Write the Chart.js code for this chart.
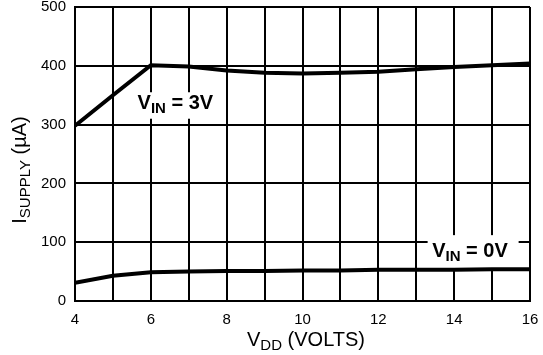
<!DOCTYPE html>
<html>
<head>
<meta charset="utf-8">
<script src="https://cdn.jsdelivr.net/npm/chart.js@4/dist/chart.umd.min.js"></script>
<style>
  html, body { margin: 0; padding: 0; background: #fff; }
  #wrap { width: 543px; height: 355px; }
</style>
</head>
<body>
<div id="wrap"><canvas id="supplyChart"></canvas></div>
<script>
// values
const vdd = [4, 5, 6, 7, 8, 9, 10, 11, 12, 13, 14, 15, 16];
const supplyVin3 = [298, 350, 401, 399, 392, 388, 387, 388, 390, 394, 398, 401, 404];
const supplyVin0 = [31, 43, 49, 50, 51, 51, 52, 52, 53, 53, 53, 54, 54];
const xTicks = [4, 6, 8, 10, 12, 14, 16];
const yTicks = [0, 100, 200, 300, 400, 500];

const FONT = "'Liberation Sans', Arial, Helvetica, sans-serif";

function toPoints(xs, ys) {
  return xs.map((x, i) => ({ x: x, y: ys[i] }));
}

// draws "main" + lowered subscript + "rest" starting at x, returns end x
function subText(ctx, x, y, main, sub, rest, size, subSize, bold) {
  const w = bold ? "bold " : "";
  ctx.font = w + size + "px " + FONT;
  ctx.fillText(main, x, y);
  x += ctx.measureText(main).width;
  ctx.font = w + subSize + "px " + FONT;
  ctx.fillText(sub, x, y + 4);
  x += ctx.measureText(sub).width;
  ctx.font = w + size + "px " + FONT;
  ctx.fillText(rest, x, y);
  return x + ctx.measureText(rest).width;
}

function subWidth(ctx, main, sub, rest, size, subSize, bold) {
  const w = bold ? "bold " : "";
  ctx.font = w + size + "px " + FONT;
  let total = ctx.measureText(main).width + ctx.measureText(rest).width;
  ctx.font = w + subSize + "px " + FONT;
  return total + ctx.measureText(sub).width;
}

const labelsPlugin = {
  id: "labels",
  beforeDatasetsDraw(chart) {
    const ctx = chart.ctx;
    const xs = chart.scales.x, ys = chart.scales.y;
    ctx.save();
    ctx.fillStyle = "#fff";
    // white boxes behind curve labels
    ctx.fillRect(xs.getPixelForValue(5.5), ys.getPixelForValue(355),
      xs.getPixelForValue(7.95) - xs.getPixelForValue(5.5), ys.getPixelForValue(310) - ys.getPixelForValue(355));
    ctx.fillRect(xs.getPixelForValue(13.3), ys.getPixelForValue(112),
      xs.getPixelForValue(15.7) - xs.getPixelForValue(13.3), ys.getPixelForValue(56) - ys.getPixelForValue(112));
    ctx.fillStyle = "#000";
    ctx.textBaseline = "alphabetic";
    ctx.textAlign = "left";
    subText(ctx, xs.getPixelForValue(5.65), ys.getPixelForValue(327), "V", "IN", " = 3V", 20, 15, true);
    subText(ctx, xs.getPixelForValue(13.42), ys.getPixelForValue(74), "V", "IN", " = 0V", 20, 15, true);
    ctx.restore();
  },
  afterDraw(chart) {
    const ctx = chart.ctx;
    ctx.save();
    ctx.fillStyle = "#000";
    ctx.textAlign = "left";
    ctx.textBaseline = "alphabetic";
    // x axis title
    let w = subWidth(ctx, "V", "DD", " (VOLTS)", 20, 15, false);
    subText(ctx, 306 - w / 2, 346, "V", "DD", " (VOLTS)", 20, 15, false);
    // y axis title, rotated
    ctx.translate(26, 170);
    ctx.rotate(-Math.PI / 2);
    w = subWidth(ctx, "I", "SUPPLY", " (\u00B5A)", 20, 15, false);
    subText(ctx, -w / 2, 0, "I", "SUPPLY", " (\u00B5A)", 20, 15, false);
    ctx.restore();
  }
};

new Chart(document.getElementById("supplyChart"), {
  type: "line",
  data: {
    datasets: [
      {
        label: "VIN = 3V",
        data: toPoints(vdd, supplyVin3),
        borderColor: "#000",
        borderWidth: 4,
        pointRadius: 0,
        tension: 0,
      },
      {
        label: "VIN = 0V",
        data: toPoints(vdd, supplyVin0),
        borderColor: "#000",
        borderWidth: 4,
        pointRadius: 0,
        tension: 0,
      },
    ],
  },
  options: {
    responsive: true,
    maintainAspectRatio: false,
    animation: false,
    layout: { padding: { top: 7, right: 13, left: 0, bottom: 0 } },
    plugins: { legend: { display: false }, tooltip: { enabled: false } },
    scales: {
      x: {
        type: "linear",
        min: 4,
        max: 16,
        afterFit: (scale) => {
          scale.height = 54;
          scale.paddingLeft = 0;
          scale.paddingRight = 0;
        },
        ticks: {
          stepSize: 1,
          padding: 10,
          color: "#000",
          font: { family: FONT, size: 15 },
          maxRotation: 0,
          autoSkip: false,
          callback: (v) => (xTicks.includes(v) ? String(v) : ""),
        },
        grid: { color: "#000", lineWidth: 2, drawTicks: false },
        border: { color: "#000", width: 2 },
      },
      y: {
        min: 0,
        max: 500,
        afterFit: (scale) => {
          scale.width = 75;
          scale.paddingTop = 0;
          scale.paddingBottom = 0;
        },
        ticks: {
          stepSize: 100,
          padding: 9,
          color: "#000",
          font: { family: FONT, size: 15 },
          callback: (v) => (yTicks.includes(v) ? String(v) : ""),
        },
        grid: { color: "#000", lineWidth: 2, drawTicks: false },
        border: { color: "#000", width: 2 },
      },
    },
  },
  plugins: [labelsPlugin],
});
</script>
</body>
</html>
